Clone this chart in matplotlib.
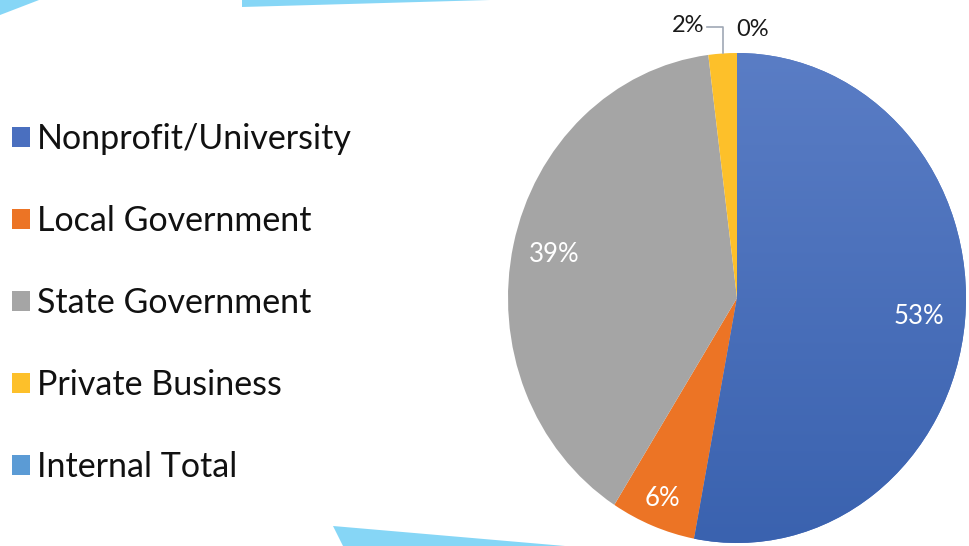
import numpy as np
import matplotlib
matplotlib.use('Agg')
import matplotlib.pyplot as plt
from matplotlib.patches import Polygon
from matplotlib.colors import LinearSegmentedColormap

# funding sources, share of total (%)
sources = ['Nonprofit/University', 'Local Government', 'State Government',
           'Private Business', 'Internal Total']
shares = [53, 6, 39, 2, 0]
colors = ['#4a6fbf', '#ec7425', '#a5a5a5', '#fdc02a', '#5b9bd5']
label_colors = ['white', 'white', 'white', '#1a1a1a', '#1a1a1a']

plt.rcParams['font.family'] = ['Lato', 'DejaVu Sans']

W, H = 969, 546
fig = plt.figure(figsize=(W / 100, H / 100), dpi=100)

# background layer in pixel units for the light-blue accents
bg = fig.add_axes([0, 0, 1, 1])
bg.set_xlim(0, W)
bg.set_ylim(H, 0)
bg.axis('off')
accent = '#86d6f6'
for pts in ([(0, 0), (39, 0), (0, 15)],
            [(242, 0), (490, 0), (242, 7)],
            [(333, 526), (565, 546), (343, 546)]):
    bg.add_patch(Polygon(pts, closed=True, fc=accent, ec='none'))

# pie, slightly taller than wide
cx, cy, rx, ry = 737, 298, 229, 245
ax = fig.add_axes([(cx - rx) / W, (H - cy - ry) / H, 2 * rx / W, 2 * ry / H])
wedges, _ = ax.pie(shares, colors=colors, startangle=90, counterclock=False,
                   radius=1, wedgeprops=dict(linewidth=0))
ax.set_aspect('auto')
ax.set_xlim(-1, 1)
ax.set_ylim(-1, 1)
ax.axis('off')

# soft vertical shading on the large blue wedge
grad = LinearSegmentedColormap.from_list('blue', ['#3a62af', '#5a7dc5'])
img = ax.imshow(np.linspace(0, 1, 256).reshape(-1, 1), cmap=grad,
                extent=(-1, 1, -1, 1), origin='lower', aspect='auto', zorder=1.5)
img.set_clip_path(wedges[0])

# value labels inside the three large slices
dist = [0.80, 0.88, 0.82]
for i in range(3):
    w = wedges[i]
    mid = np.deg2rad((w.theta1 + w.theta2) / 2)
    ax.text(dist[i] * np.cos(mid), dist[i] * np.sin(mid), f'{shares[i]}%',
            ha='center', va='center', fontsize=18.5, color=label_colors[i], zorder=3)

# small slices labelled outside the pie
w = wedges[3]
mid = np.deg2rad((w.theta1 + w.theta2) / 2)
x0, y0 = np.cos(mid), np.sin(mid)
ax.plot([x0, x0, x0 - 0.07], [y0, y0 + 0.11, y0 + 0.11], color='#9fa8b5', lw=1.2,
        clip_on=False)
ax.text(x0 - 0.08, y0 + 0.115, f'{shares[3]}%', ha='right', va='center',
        fontsize=17, color=label_colors[3])
w = wedges[4]
ang = np.deg2rad(w.theta1)
ax.text(np.cos(ang) + 0.067, np.sin(ang) + 0.095, f'{shares[4]}%', ha='center',
        va='center', fontsize=17, color=label_colors[4])

leg = fig.legend(wedges, sources, loc='upper left', bbox_to_anchor=(12 / W, 1 - 123 / H),
                 frameon=False, fontsize=24.5, handlelength=0.53, handleheight=0.53,
                 handletextpad=0.2, labelspacing=1.47, borderaxespad=0, borderpad=0)
for t in leg.get_texts():
    t.set_color('#111111')

fig.savefig('out.png', dpi=100)
